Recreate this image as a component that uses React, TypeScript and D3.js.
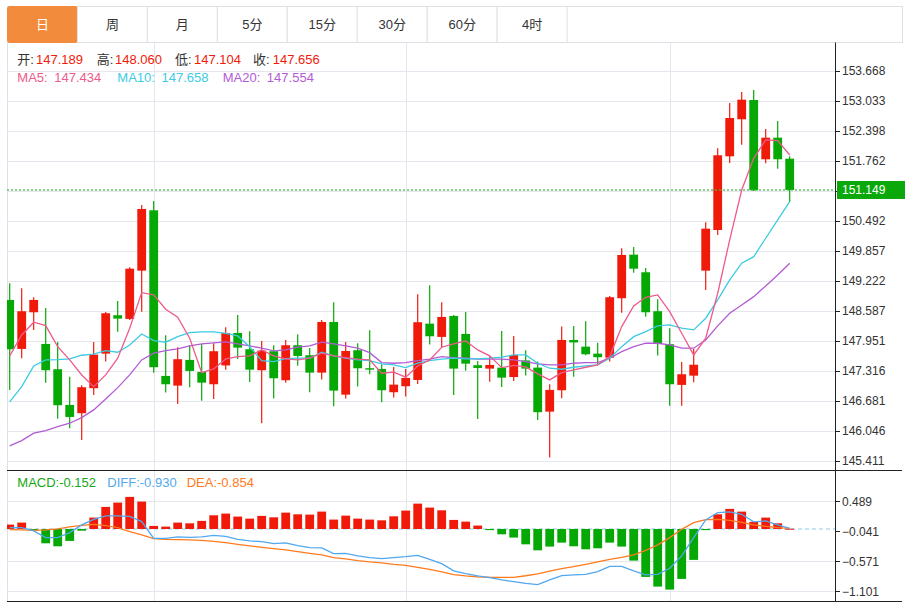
import React from "react";
import * as d3 from "d3";

const tabs = ["日", "周", "月", "5分", "15分", "30分", "60分", "4时"];

const openP = [148.821, 147.784, 148.560, 147.889, 147.354, 146.598, 146.423, 146.952, 147.684, 148.497,
  148.419, 149.441, 150.719, 147.212, 147.007, 147.551, 147.297, 147.036, 147.434, 148.122,
  147.777, 147.333, 147.735, 147.121, 147.862, 147.650, 147.282, 148.355, 146.816, 147.756,
  147.375, 147.360, 146.867, 146.994, 147.127, 148.319, 148.038, 148.482, 148.101, 147.439,
  147.367, 147.388, 147.189, 147.540, 147.388, 146.456, 146.909, 147.974, 147.832, 147.684,
  147.599, 148.857, 149.780, 149.407, 148.582, 147.883, 147.022, 147.218, 149.441, 150.302,
  151.862, 152.646, 153.054, 151.799, 152.256, 151.812];

const highP = [149.174, 149.068, 148.878, 148.651, 147.932, 147.197, 147.015, 147.932, 148.567, 148.800,
  149.513, 150.832, 150.916, 148.074, 147.820, 147.868, 147.889, 147.904, 148.243, 148.503,
  148.158, 147.953, 147.862, 147.974, 148.095, 147.805, 148.397, 148.772, 147.932, 147.904,
  148.179, 147.460, 147.403, 147.360, 148.941, 149.132, 148.772, 148.503, 148.567, 147.530,
  147.621, 148.165, 148.060, 147.756, 147.515, 147.036, 148.256, 148.270, 148.370, 147.917,
  148.905, 149.915, 149.943, 149.498, 148.836, 148.222, 147.508, 147.784, 150.465, 152.032,
  152.991, 153.223, 153.266, 152.440, 152.610, 151.862];

const lowP = [146.916, 147.587, 148.186, 147.070, 146.308, 146.105, 145.857, 146.810, 147.515, 148.150,
  148.397, 148.573, 147.282, 146.859, 146.619, 146.973, 146.689, 146.725, 147.345, 147.572,
  147.085, 146.211, 146.732, 147.070, 147.430, 146.867, 147.134, 146.571, 146.732, 146.986,
  147.248, 146.655, 146.753, 146.774, 147.043, 147.875, 147.805, 146.810, 147.324, 146.302,
  147.091, 146.979, 147.104, 147.223, 146.281, 145.483, 146.740, 147.197, 147.650, 147.460,
  147.515, 148.552, 149.399, 148.467, 147.642, 146.583, 146.583, 147.079, 149.032, 150.197,
  151.721, 152.108, 151.128, 151.714, 151.600, 150.895];

const closeP = [147.777, 148.582, 148.821, 147.333, 146.592, 146.344, 146.973, 147.663, 148.539, 148.425,
  149.483, 150.747, 147.396, 147.036, 147.566, 147.318, 147.070, 147.735, 148.122, 147.811,
  147.345, 147.748, 147.163, 147.862, 147.635, 147.282, 148.355, 146.901, 147.741, 147.375,
  147.345, 146.909, 147.028, 147.170, 148.349, 148.052, 148.461, 147.367, 147.472, 147.381,
  147.445, 147.176, 147.656, 147.367, 146.444, 146.916, 147.974, 147.921, 147.671, 147.608,
  148.878, 149.773, 149.483, 148.560, 147.896, 147.036, 147.248, 147.449, 150.330, 151.884,
  152.673, 153.061, 151.143, 152.256, 151.799, 151.149];

const ma5 = [147.636, 148.080, 148.349, 148.277, 147.832, 147.551, 147.233, 146.986, 147.233, 147.587,
  148.222, 148.975, 148.927, 148.624, 148.455, 148.010, 147.282, 147.360, 147.572, 147.621,
  147.636, 147.763, 147.636, 147.572, 147.551, 147.587, 147.693, 147.636, 147.600, 147.566,
  147.551, 147.269, 147.291, 147.185, 147.424, 147.551, 147.820, 147.890, 147.953, 147.763,
  147.636, 147.388, 147.434, 147.403, 147.255, 147.128, 147.282, 147.339, 147.396, 147.445,
  147.621, 148.256, 148.694, 148.878, 148.927, 148.573, 148.116, 147.657, 148.010, 148.963,
  150.091, 151.149, 151.820, 152.208, 152.193, 151.890];

const ma10 = [146.662, 146.986, 147.424, 147.551, 147.557, 147.572, 147.650, 147.672, 147.748, 147.714,
  147.868, 148.101, 147.959, 147.926, 148.044, 148.129, 148.144, 148.144, 148.112, 148.059,
  147.832, 147.536, 147.515, 147.578, 147.587, 147.587, 147.714, 147.636, 147.587, 147.551,
  147.536, 147.466, 147.445, 147.388, 147.481, 147.536, 147.566, 147.587, 147.572, 147.572,
  147.587, 147.608, 147.658, 147.657, 147.481, 147.375, 147.354, 147.396, 147.424, 147.445,
  147.587, 147.832, 148.044, 148.150, 148.271, 148.292, 148.222, 148.186, 148.434, 148.821,
  149.244, 149.598, 149.737, 150.127, 150.514, 150.902];

const ma20 = [145.731, 145.843, 145.999, 146.054, 146.139, 146.211, 146.330, 146.493, 146.725, 146.965,
  147.233, 147.551, 147.693, 147.748, 147.784, 147.847, 147.890, 147.911, 147.932, 147.890,
  147.847, 147.799, 147.741, 147.763, 147.820, 147.847, 147.926, 147.890, 147.847, 147.799,
  147.705, 147.494, 147.481, 147.494, 147.536, 147.566, 147.621, 147.600, 147.587, 147.566,
  147.566, 147.566, 147.554, 147.515, 147.466, 147.445, 147.445, 147.481, 147.494, 147.494,
  147.587, 147.727, 147.832, 147.904, 147.904, 147.868, 147.799, 147.799, 147.974, 148.271,
  148.539, 148.715, 148.891, 149.117, 149.350, 149.598];

const macdHist = [0.077, 0.113, -0.03, -0.253, -0.306, -0.211, -0.03, 0.201, 0.390, 0.466,
  0.567, 0.484, 0.054, 0.042, 0.113, 0.100, 0.143, 0.242, 0.272, 0.219,
  0.183, 0.231, 0.206, 0.289, 0.259, 0.254, 0.307, 0.166, 0.236, 0.183,
  0.166, 0.153, 0.224, 0.325, 0.448, 0.378, 0.330, 0.160, 0.130, 0.060,
  -0.02, -0.094, -0.152, -0.271, -0.377, -0.311, -0.241, -0.306, -0.359, -0.341,
  -0.241, -0.311, -0.559, -0.847, -1.018, -1.071, -0.882, -0.546, -0.02, 0.259,
  0.355, 0.307, 0.125, 0.201, 0.100, 0.005];

const diff = [0.024, 0.024, -0.034, -0.152, -0.152, -0.064, 0.072, 0.171, 0.231, 0.231,
  0.224, 0.130, -0.165, -0.165, -0.140, -0.147, -0.140, -0.112, -0.129, -0.182,
  -0.211, -0.223, -0.258, -0.246, -0.294, -0.329, -0.334, -0.435, -0.430, -0.476,
  -0.506, -0.523, -0.506, -0.488, -0.465, -0.536, -0.612, -0.741, -0.788, -0.829,
  -0.859, -0.900, -0.930, -0.960, -0.983, -0.900, -0.824, -0.811, -0.801, -0.753,
  -0.659, -0.659, -0.741, -0.811, -0.801, -0.695, -0.476, -0.152, 0.160, 0.289,
  0.302, 0.259, 0.125, 0.143, 0.072, 0.012];

const dea = [-0.011, -0.016, -0.023, -0.016, 0.001, 0.037, 0.065, 0.083, 0.060, 0.024,
  -0.046, -0.105, -0.170, -0.182, -0.188, -0.193, -0.200, -0.218, -0.241, -0.271,
  -0.299, -0.324, -0.347, -0.370, -0.400, -0.430, -0.458, -0.506, -0.529, -0.559,
  -0.582, -0.599, -0.624, -0.642, -0.677, -0.712, -0.758, -0.806, -0.829, -0.845,
  -0.853, -0.856, -0.854, -0.826, -0.792, -0.745, -0.700, -0.665, -0.624, -0.582,
  -0.536, -0.500, -0.458, -0.377, -0.281, -0.152, -0.006, 0.113, 0.166, 0.171,
  0.153, 0.118, 0.072, 0.047, 0.024, 0.012];

const priceTicks = [153.668, 153.033, 152.398, 151.762, 151.127, 150.492, 149.857, 149.222,
  148.587, 147.951, 147.316, 146.681, 146.046, 145.411];
const macdTicks = [0.489, -0.041, -0.571, -1.101];
const lastPrice = 151.149;

const ohlcLegend = [
  { label: "开:", value: "147.189" },
  { label: "高:", value: "148.060" },
  { label: "低:", value: "147.104" },
  { label: "收:", value: "147.656" },
];
const maLegend = [
  { label: "MA5: 147.434", key: "ma5" },
  { label: "MA10: 147.658", key: "ma10" },
  { label: "MA20: 147.554", key: "ma20" },
];
const macdLegend = [
  { label: "MACD:-0.152", key: "macd" },
  { label: "DIFF:-0.930", key: "diff" },
  { label: "DEA:-0.854", key: "dea" },
];

const RED = "#f01a0a";
const GREEN = "#05a805";
const C = {
  ma5: "#ee5a8c",
  ma10: "#3ccbe3",
  ma20: "#b35bd5",
  diff: "#52a8ee",
  dea: "#ff7a1e",
  macd: "#14a814",
  grid: "#e4e8ee",
};
const FONT = "'Liberation Sans', Arial, 'Noto Sans CJK SC', sans-serif";

export default function App() {
  const W = 913, H = 604;
  const left = 7, axisX = 835, right = 902;
  const mainTop = 42.5, mainBottom = 470.5, macdBottom = 601.5;
  const idx = d3.range(openP.length);
  const x = d3.scalePoint<number>().domain(idx).range([9.7, 789.7]);
  const bw = 8.8;
  const yP = d3.scaleLinear().domain([145.411, 153.668]).range([461, 71]);
  const yM = d3.scaleLinear().domain([-1.101, 0.489]).range([591.3, 501.3]);

  const lineP = (arr: number[]) =>
    d3.line<number>().x((_, i) => x(i) as number).y((d) => yP(d))(arr) || "";
  const lineM = (arr: number[]) =>
    d3.line<number>().x((_, i) => x(i) as number).y((d) => yM(d))(arr) || "";

  const tabW = 69.95;
  const tabTop = 6.5, tabBottom = 42.5;

  return (
    <svg width={W} height={H} style={{ position: "absolute", left: 0, top: 0, display: "block", background: "#fff" }}
      fontFamily={FONT}>
      <defs>
        <clipPath id="clipMain"><rect x={left} y={mainTop} width={axisX - left} height={mainBottom - mainTop} /></clipPath>
        <clipPath id="clipMacd"><rect x={left} y={mainBottom} width={axisX - left} height={macdBottom - mainBottom} /></clipPath>
      </defs>

      {/* tabs */}
      <rect x={left + 0.5} y={tabTop} width={right - left} height={tabBottom - tabTop} fill="#fff" stroke="#dde1e6" />
      {tabs.map((t, i) => {
        const tx = left + 0.5 + i * tabW;
        const active = i === 0;
        return (
          <g key={t}>
            <rect x={tx} y={tabTop} width={tabW} height={tabBottom - tabTop}
              fill={active ? "#f28b3b" : "#fff"} stroke={active ? "#f28b3b" : "#dde1e6"} rx={active ? 2 : 0} />
            <text x={tx + tabW / 2} y={(tabTop + tabBottom) / 2} dy="0.35em" textAnchor="middle"
              fontSize={13} fill={active ? "#fff" : "#333"}>{t}</text>
          </g>
        );
      })}

      {/* frame lines */}
      <line x1={left + 0.5} x2={left + 0.5} y1={mainTop} y2={macdBottom} stroke="#dde1e6" />

      {/* grid main */}
      {priceTicks.map((t) => (
        <line key={"g" + t} x1={left} x2={axisX} y1={Math.round(yP(t)) + 0.5} y2={Math.round(yP(t)) + 0.5} stroke={C.grid} />
      ))}
      {macdTicks.filter((t) => t !== -0.041).map((t) => (
        <line key={"gm" + t} x1={left} x2={axisX} y1={Math.round(yM(t)) + 0.5} y2={Math.round(yM(t)) + 0.5} stroke={C.grid} />
      ))}
      {[12, 33, 55].map((i) => (
        <line key={"v" + i} x1={Math.round(x(i) as number) + 0.5} x2={Math.round(x(i) as number) + 0.5}
          y1={mainTop} y2={macdBottom} stroke={C.grid} />
      ))}

      {/* legends */}
      {ohlcLegend.map((d, i) => {
        const lx = [17.3, 96.7, 175, 253][i];
        const vx = [36, 115, 194, 272.7][i];
        return (
          <g key={d.label}>
            <text x={lx} y={59} dy="0.35em" fontSize={13} fill="#333">{d.label}</text>
            <text x={vx} y={59} dy="0.35em" fontSize={13} fill={RED}>{d.value}</text>
          </g>
        );
      })}
      {maLegend.map((d, i) => (
        <text key={d.key} x={[17.3, 117.3, 222.7][i]} y={77} dy="0.35em" fontSize={13}
          fill={(C as any)[d.key]} style={{ wordSpacing: "3px" }}>{d.label}</text>
      ))}

      {/* candles */}
      <g clipPath="url(#clipMain)">
        {idx.map((i) => {
          const up = closeP[i] >= openP[i];
          const col = up ? RED : GREEN;
          const cx = x(i) as number;
          const yTop = yP(Math.max(openP[i], closeP[i]));
          const yBot = yP(Math.min(openP[i], closeP[i]));
          return (
            <g key={"c" + i}>
              <line x1={cx} x2={cx} y1={yP(highP[i])} y2={yP(lowP[i])} stroke={col} strokeWidth={1.2} />
              <rect x={cx - bw / 2} y={yTop} width={bw} height={Math.max(1.2, yBot - yTop)} fill={col} />
            </g>
          );
        })}
        <path d={lineP(ma20)} fill="none" stroke={C.ma20} strokeWidth={1.3} />
        <path d={lineP(ma10)} fill="none" stroke={C.ma10} strokeWidth={1.3} />
        <path d={lineP(ma5)} fill="none" stroke={C.ma5} strokeWidth={1.3} />
        <line x1={left} x2={axisX} y1={yP(lastPrice)} y2={yP(lastPrice)} stroke="#49bb49" strokeWidth={1.3}
          strokeDasharray="2,2" opacity={0.85} />
      </g>

      {/* MACD panel */}
      <line x1={left} x2={right} y1={mainBottom} y2={mainBottom} stroke="#222" />
      <line x1={left} x2={right} y1={macdBottom} y2={macdBottom} stroke="#222" />
      {macdLegend.map((d, i) => (
        <text key={d.key} x={[17.3, 107.3, 186.7][i]} y={482.5} dy="0.35em" fontSize={13}
          fill={(C as any)[d.key]}>{d.label}</text>
      ))}
      <g clipPath="url(#clipMacd)">
        <line x1={left} x2={axisX} y1={yM(0)} y2={yM(0)} stroke="#8fcdf2" strokeDasharray="4,3" />
        {idx.map((i) => {
          const v = macdHist[i];
          const y0 = yM(0), y1 = yM(v);
          const cx = x(i) as number;
          return (
            <rect key={"h" + i} x={cx - bw / 2} y={Math.min(y0, y1)} width={bw}
              height={Math.max(1, Math.abs(y1 - y0))} fill={v >= 0 ? RED : GREEN} />
          );
        })}
        <path d={lineM(dea)} fill="none" stroke={C.dea} strokeWidth={1.3} />
        <path d={lineM(diff)} fill="none" stroke={C.diff} strokeWidth={1.3} />
      </g>

      {/* right axis */}
      <line x1={axisX + 0.5} x2={axisX + 0.5} y1={mainTop} y2={macdBottom} stroke="#222" />
      {priceTicks.map((t) => (
        <g key={"t" + t}>
          <line x1={axisX} x2={axisX + 5} y1={Math.round(yP(t)) + 0.5} y2={Math.round(yP(t)) + 0.5} stroke="#222" />
          <text x={axisX + 7} y={yP(t)} dy="0.35em" fontSize={12} fill="#333">{d3.format(".3f")(t)}</text>
        </g>
      ))}
      {macdTicks.map((t) => (
        <g key={"tm" + t}>
          <line x1={axisX} x2={axisX + 5} y1={Math.round(yM(t)) + 0.5} y2={Math.round(yM(t)) + 0.5} stroke="#222" />
          <text x={axisX + 7} y={yM(t)} dy="0.35em" fontSize={12} fill="#333">{d3.format(".3f")(t)}</text>
        </g>
      ))}
      {/* current price label */}
      <rect x={axisX + 2} y={yP(lastPrice) - 9} width={right + 3 - axisX - 2} height={18} fill="#0aa80a" />
      <text x={axisX + 7} y={yP(lastPrice)} dy="0.35em" fontSize={12} fill="#fff">{d3.format(".3f")(lastPrice)}</text>
    </svg>
  );
}
